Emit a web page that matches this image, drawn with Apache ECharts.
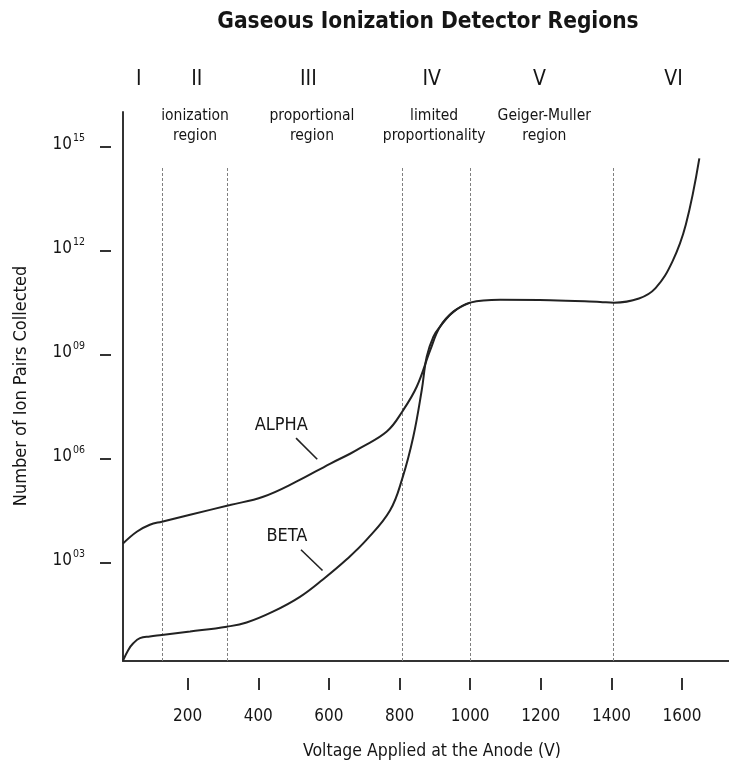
<!DOCTYPE html>
<html><head><meta charset="utf-8">
<script src="https://cdn.jsdelivr.net/npm/echarts@6/dist/echarts.min.js"></script>
<style>html,body{margin:0;padding:0;background:#fff}#c{width:729px;height:771px}</style>
</head><body><div id="c"></div>
<script>
// ---- data (voltage in V, ion pairs as log10 exponent) ----
const alphaX   = [17, 56, 93, 127, 207, 320, 414, 509, 603, 660, 688, 764, 808, 849, 887, 915, 953, 1000, 1085, 1227, 1368, 1407, 1478, 1525, 1573, 1611, 1649];
const alphaExp = [3.55, 3.89, 4.09, 4.18, 4.38, 4.66, 4.90, 5.34, 5.85, 6.14, 6.30, 6.78, 7.36, 8.08, 9.13, 9.81, 10.24, 10.50, 10.58, 10.57, 10.52, 10.50, 10.62, 10.92, 11.69, 12.76, 14.66];
const betaX    = [17, 32, 46, 65, 93, 127, 207, 311, 367, 443, 518, 584, 649, 707, 773, 808, 839, 863, 877, 896, 915, 953, 1000];
const betaExp  = [0.17, 0.48, 0.67, 0.82, 0.87, 0.91, 1.01, 1.15, 1.27, 1.59, 2.01, 2.52, 3.08, 3.66, 4.50, 5.43, 6.63, 7.98, 8.94, 9.52, 9.81, 10.24, 10.50];
const xTicks = [200, 400, 600, 800, 1000, 1200, 1400, 1600];
const yTicks = [3, 6, 9, 12, 15];
const yTickExp = ['03', '06', '09', '12', '15'];
const boundaries = [128, 311, 808, 1000, 1406];
const boundaryTop = 14.41;
const regionNumerals = ['I', 'II', 'III', 'IV', 'V', 'VI'];
const regionNumeralX = [62, 226, 542, 891, 1196, 1576];
const regionNames = ['ionization\nregion', 'proportional\nregion', 'limited\nproportionality', 'Geiger-Muller\nregion'];
const regionNameX = [221, 552, 898, 1210];
const curveLabels = ['ALPHA', 'BETA'];
const curveLabelPos = [[465, 6.96], [481, 3.75]];
const pointerA = [[507, 6.59], [567, 5.98]];
const pointerB = [[521, 3.37], [582, 2.77]];

const F = "'Liberation Sans Narrow','DejaVu Sans Condensed','Roboto',sans-serif";
const xMin = 17, xMax = 1733, yMin = 0.16, yMax = 16;
const INK = '#222';
const TXT = '#151515';

const chart = echarts.init(document.getElementById('c'), null, {renderer: 'canvas'});

const dashedLines = boundaries.map(b => [{coord: [b, yMin]}, {coord: [b, boundaryTop]}]);

const option = {
  animation: false,
  backgroundColor: '#fff',
  textStyle: {fontFamily: F, color: TXT},
  grid: {left: 123, right: 0, top: 112, bottom: 110},
  xAxis: [
    {type: 'value', min: xMin, max: xMax, position: 'bottom',
     axisLine: {show: true, onZero: false, lineStyle: {color: '#333', width: 2}},
     axisTick: {show: false}, axisLabel: {show: false}, splitLine: {show: false}},
    {type: 'value', min: xMin, max: xMax, position: 'bottom', offset: 17,
     axisLine: {show: false},
     axisTick: {show: true, length: 12, customValues: xTicks, lineStyle: {color: '#333', width: 2}},
     axisLabel: {show: true, customValues: xTicks, margin: 30, fontSize: 17, color: TXT, fontFamily: F,
       formatter: v => String(Math.round(v))},
     splitLine: {show: false}}
  ],
  yAxis: [
    {type: 'value', min: yMin, max: yMax, position: 'left',
     axisLine: {show: true, onZero: false, lineStyle: {color: '#333', width: 2}},
     axisTick: {show: false}, axisLabel: {show: false}, splitLine: {show: false}},
    {type: 'value', min: yMin, max: yMax, position: 'left', offset: 12,
     axisLine: {show: false},
     axisTick: {show: true, length: 11, customValues: yTicks, lineStyle: {color: '#333', width: 2}},
     axisLabel: {show: true, customValues: yTicks, margin: 26, fontSize: 17, color: TXT, fontFamily: F,
       padding: [0, 0, 7, 0],
       formatter: v => {
         const i = yTicks.indexOf(Math.round(v));
         return '{b|10}{s|' + (i >= 0 ? yTickExp[i] : '') + '}';
       },
       rich: {
         b: {fontSize: 17, fontFamily: F, color: TXT, lineHeight: 20, verticalAlign: 'bottom'},
         s: {fontSize: 10.5, fontFamily: F, color: TXT, lineHeight: 20, verticalAlign: 'top', padding: [0, 0, 0, 1]}
       }},
     splitLine: {show: false}}
  ],
  series: [
    {name: 'ALPHA', type: 'line', xAxisIndex: 0, yAxisIndex: 0,
     data: alphaX.map((x, i) => [x, alphaExp[i]]),
     showSymbol: false, smooth: 0.4, lineStyle: {color: INK, width: 2}, z: 5,
     markLine: {silent: true, symbol: 'none', label: {show: false},
       lineStyle: {color: '#808080', width: 1, type: [3, 2]},
       data: dashedLines.concat([
         [{coord: pointerA[0], lineStyle: {color: INK, width: 1.6, type: 'solid'}}, {coord: pointerA[1]}],
         [{coord: pointerB[0], lineStyle: {color: INK, width: 1.6, type: 'solid'}}, {coord: pointerB[1]}]
       ])},
     markPoint: {silent: true, symbol: 'circle', symbolSize: 0,
       label: {show: true, position: 'inside', formatter: p => p.name, fontSize: 18, color: TXT, fontFamily: F},
       data: curveLabels.map((n, i) => ({name: n, coord: curveLabelPos[i]}))}
    },
    {name: 'BETA', type: 'line', xAxisIndex: 0, yAxisIndex: 0,
     data: betaX.map((x, i) => [x, betaExp[i]]),
     showSymbol: false, smooth: 0.4, lineStyle: {color: INK, width: 2}, z: 5}
  ]
};
chart.setOption(option);

const px = v => chart.convertToPixel({xAxisIndex: 0}, v);
const txt = (text, x, y, size, extra) => Object.assign({
  type: 'text', x: x, y: y, silent: true,
  style: Object.assign({text: text, fontSize: size, fontFamily: F, fill: TXT, align: 'center', verticalAlign: 'middle'}, extra || {})
});
const graphics = [
  txt('Gaseous Ionization Detector Regions', 428, 22, 22.5, {fontWeight: 'bold'}),
  Object.assign(txt('Number of Ion Pairs Collected', 21, 386, 18), {rotation: Math.PI / 2}),
  txt('Voltage Applied at the Anode (V)', 432, 751, 17.5)
];
regionNumerals.forEach((r, i) => graphics.push(txt(r, px(regionNumeralX[i]), 80, 21)));
regionNames.forEach((r, i) => graphics.push(txt(r, px(regionNameX[i]), 126, 15.5, {lineHeight: 20})));
chart.setOption({graphic: graphics});
</script>
</body></html>
